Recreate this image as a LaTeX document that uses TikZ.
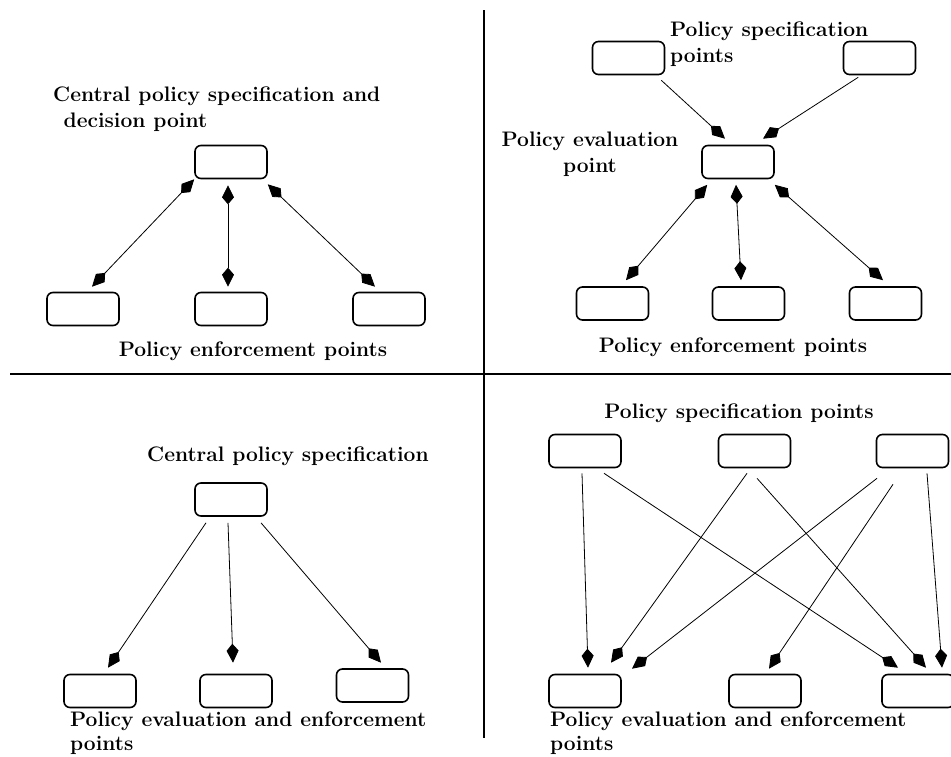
\documentclass[tikz,border=0pt]{standalone}
\usetikzlibrary{arrows.meta}
\usetikzlibrary{positioning}
\tikzset{
  % kite shaped arrow tip
  kite/.tip = {Kite[length=19pt, width=12pt, inset=7pt]},
  % path style with one arrow
  arr/.style = {
    draw = black,
    line width = 0.8pt,
    -kite
  },
  % path style with arrows at both ends
  barr/.style = {
    arr,
    kite-kite
  },
  divider/.style = {
    draw = black,
    line width = 2pt
  }
}
\tikzset {
  % policy point
  point box/.style = {
    draw = black,
    rectangle,
    rounded corners = 6pt,
    line width = 1.6pt,
    minimum width = 72pt,
    minimum height = 33pt,
    inner sep = 0
  },
  caption/.style = {
    font = \fontsize{21}{26}\selectfont\bfseries,
    inner sep = 0
  },
  % bottom captions sit a little tighter
  low caption/.style = {
    caption,
    font = \fontsize{21}{24}\selectfont\bfseries
  }
}

\begin{document}
\begin{tikzpicture}[x=1pt, y=-1pt]
    \useasboundingbox (0,0) rectangle (951,756);

    \draw[divider] (10,374) -- (951,374);
    \draw[divider] (484,10) -- (484,738);

    % central specification and decision
    \node[caption, anchor=north west, align=left] (tl-title) at (53,87)
      {Central policy specification and\\\hspace{0.5em}decision point};
    \node[point box] (tl-c) at (231,162) {};
    \node[point box] (tl-e1) at (83,309) {};
    \node[point box] (tl-e2) at (231,309) {};
    \node[point box] (tl-e3) at (389,309) {};
    \node[caption, anchor=north] (tl-label) at (253,342) {Policy enforcement points};

    \draw[barr] (tl-c.south west) -- ([shift={(9,-5)}]tl-e1.north);
    \draw[barr] ([shift={(-3,6)}]tl-c.south) -- ([shift={(-3,-5)}]tl-e2.north);
    \draw[barr] ([shift={(0,5)}]tl-c.south east) -- ([shift={(-14,-5)}]tl-e3.north);

    % several specification points, one evaluation point
    \node[caption, anchor=north west, align=left] (tr-title) at (670,22)
      {Policy specification\\points};
    \node[point box] (tr-s1) at (628.5,58) {};
    \node[point box] (tr-s2) at (879.5,58) {};
    \node[caption, anchor=north, align=center] (tr-eval) at (590,132)
      {Policy evaluation\\point};
    \node[point box] (tr-c) at (738,162) {};
    \node[point box] (tr-e1) at (612.5,303.5) {};
    \node[point box] (tr-e2) at (748.5,303.5) {};
    \node[point box] (tr-e3) at (885.5,303.5) {};
    \node[caption, anchor=north] (tr-label) at (733,338) {Policy enforcement points};

    \draw[arr] ([shift={(-4,5)}]tr-s1.south east) -- ([shift={(-13,-6)}]tr-c.north);
    \draw[arr] ([shift={(15.5,2)}]tr-s2.south west) -- ([shift={(25,-6)}]tr-c.north);
    \draw[barr] ([shift={(6,5.5)}]tr-c.south west) -- ([shift={(13.5,-6)}]tr-e1.north);
    \draw[barr] ([shift={(-2,5.5)}]tr-c.south) -- ([shift={(-7.5,-6)}]tr-e2.north);
    \draw[barr] ([shift={(0,5.5)}]tr-c.south east) -- ([shift={(-2.5,-6)}]tr-e3.north);

    % central specification only
    \node[caption, anchor=north west] (bl-title) at (147,447) {Central policy specification};
    \node[point box] (bl-c) at (231,499.5) {};
    \node[point box] (bl-e1) at (100,691) {};
    \node[point box] (bl-e2) at (236,691) {};
    \node[point box] (bl-e3) at (372.5,685.5) {};
    \node[low caption, anchor=north west, align=left] (bl-label) at (70,712)
      {Policy evaluation and enforcement\\points};

    \draw[arr] ([shift={(-25,6)}]bl-c.south) -- ([shift={(8,-6)}]bl-e1.north);
    \draw[arr] ([shift={(-3,6)}]bl-c.south) -- ([shift={(-3,-11)}]bl-e2.north);
    \draw[arr] ([shift={(30,6)}]bl-c.south) -- ([shift={(8.5,-5.5)}]bl-e3.north);

    % many to many
    \node[caption, anchor=north] (br-title) at (739,404) {Policy specification points};
    \node[point box] (br-s1) at (585,451) {};
    \node[point box] (br-s2) at (754.5,451) {};
    \node[point box] (br-s3) at (912.5,451) {};
    \node[point box] (br-e1) at (585,691) {};
    \node[point box] (br-e2) at (765,691) {};
    \node[point box] (br-e3) at (918,691) {};
    \node[low caption, anchor=north west, align=left] (br-label) at (550,712)
      {Policy evaluation and enforcement\\points};

    \draw[arr] ([shift={(-3,5)}]br-s1.south) -- ([shift={(3,-6)}]br-e1.north);
    \draw[arr] ([shift={(19,5)}]br-s1.south) -- ([shift={(-20,-6)}]br-e3.north);
    \draw[arr] ([shift={(-7.5,5)}]br-s2.south) -- ([shift={(26,-11)}]br-e1.north);
    \draw[arr] ([shift={(2.5,10)}]br-s2.south) -- ([shift={(8,-6)}]br-e3.north);
    \draw[arr] ([shift={(-35.5,10)}]br-s3.south) -- ([shift={(47,-5)}]br-e1.north);
    \draw[arr] ([shift={(-19.5,16)}]br-s3.south) -- ([shift={(4,-5)}]br-e2.north);
    \draw[arr] ([shift={(14.5,5)}]br-s3.south) -- ([shift={(24,-6)}]br-e3.north);
  \end{tikzpicture}
\end{document}
